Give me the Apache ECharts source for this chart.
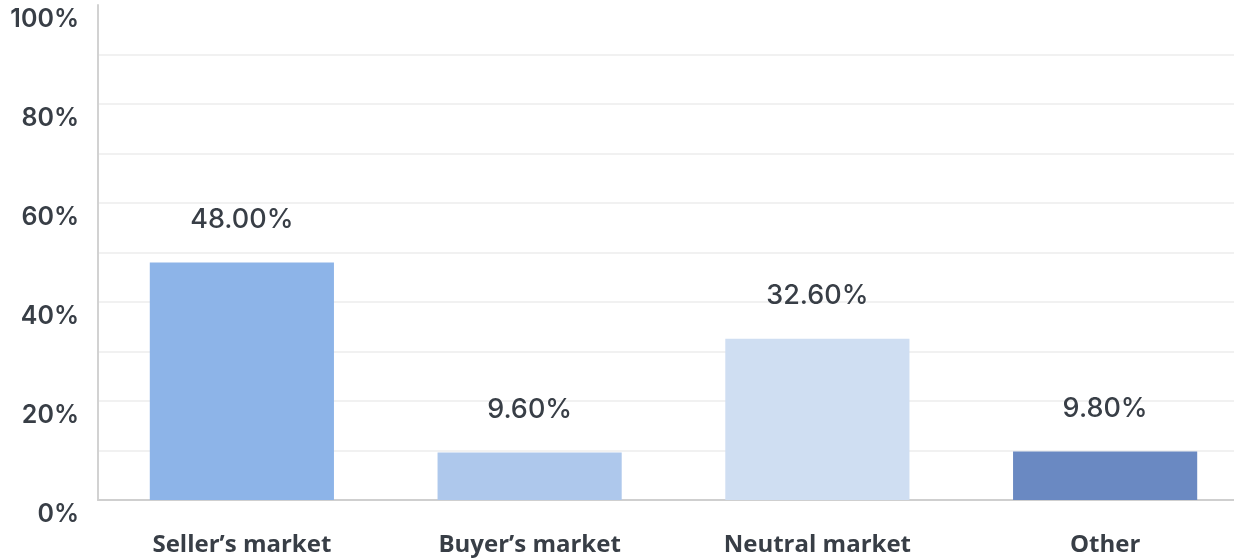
<!DOCTYPE html>
<html>
<head>
<meta charset="utf-8">
<style>
  html, body { margin: 0; padding: 0; background: #ffffff; overflow: hidden; }
  /* the plot runs slightly past the right edge of the window */
  #chart { width: 1249px; height: 558px; }
</style>
<script src="https://cdn.jsdelivr.net/npm/echarts@6/dist/echarts.min.js"></script>
</head>
<body>
<div id="chart"></div>
<script>
// Survey answers and their shares (%)
const categories = ["Seller\u2019s market", "Buyer\u2019s market", "Neutral market", "Other"];
const shares = [48.0, 9.6, 32.6, 9.8];
const barColors = ["#8db4e8", "#aec8ec", "#cfdef2", "#6a89c2"];
const yTicks = [0, 20, 40, 60, 80, 100];

const textColor = "#383e46";
const textFont = "'Open Sans', 'Noto Sans', sans-serif";
const numberFont = "Inter, 'Open Sans', sans-serif";

// one light colour per split line; the top line (100%) is left blank
const splitColors = [];
for (let i = 0; i <= 10; i++) splitColors.push(i === 10 ? "rgba(0,0,0,0)" : "#ededed");

const chart = echarts.init(document.getElementById("chart"), null, { renderer: "canvas" });

chart.setOption({
  animation: false,
  grid: { left: 98, right: 0, top: 5, bottom: 58 },
  xAxis: {
    type: "category",
    data: categories,
    axisTick: { show: false },
    axisLine: { show: true, lineStyle: { color: "#cfcfcf", width: 2 } },
    axisLabel: {
      color: textColor,
      fontFamily: textFont,
      fontSize: 24,
      fontWeight: 700,
      margin: 33
    }
  },
  yAxis: {
    type: "value",
    min: 0,
    max: 100,
    interval: 10,
    axisLine: { show: true, lineStyle: { color: "#d2d2d2", width: 2 } },
    axisTick: { show: false },
    splitLine: { show: true, lineStyle: { color: splitColors, width: 1.5 } },
    axisLabel: {
      color: textColor,
      fontFamily: numberFont,
      fontSize: 25,
      fontWeight: 600,
      margin: 19,
      verticalAlign: "top",
      padding: [2, 0, 0, 0],
      formatter: function (v) {
        return yTicks.indexOf(v) >= 0 ? v + "%" : "";
      }
    }
  },
  series: [{
    type: "bar",
    data: shares.map((v, i) => ({ value: v, itemStyle: { color: barColors[i] } })),
    barWidth: "64%",
    label: {
      show: true,
      position: "top",
      distance: 29,
      color: textColor,
      fontFamily: numberFont,
      fontSize: 27,
      fontWeight: 500,
      formatter: function (p) { return p.value.toFixed(2) + "%"; }
    }
  }]
});
</script>
</body>
</html>
